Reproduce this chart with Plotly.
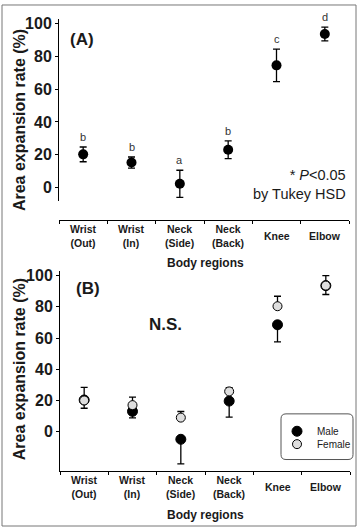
import plotly.graph_objects as go

W, H = 358, 528

# ---------------- data ----------------
categories = ["Wrist<br>(Out)", "Wrist<br>(In)", "Neck<br>(Side)", "Neck<br>(Back)", "Knee", "Elbow"]

# Panel A (all subjects)
mean_A = [20.2, 15.2, 2.2, 23.0, 74.6, 93.8]
err_A = [4.5, 3.4, 8.3, 5.4, 9.9, 4.2]
letters_A = ["b", "b", "a", "b", "c", "d"]

# Panel B (by sex)
male_B = [20.3, 13.0, -4.9, 19.6, 68.5, 93.6]
male_err_down = [5.3, 4.2, 15.8, 10.3, 11.0, 5.7]
female_B = [20.0, 17.0, 9.0, 25.8, 80.4, 93.6]
female_err_up = [8.4, 5.1, 3.9, 2.4, 6.4, 6.4]

y_ticks = [0, 20, 40, 60, 80, 100]

FONT = "Liberation Sans, Arial, Helvetica, sans-serif"
DARK = "#1a1a1a"


def px(x):
    return x / W


def py(y):
    return 1 - y / H


fig = go.Figure()

# Panel A
fig.add_trace(go.Scatter(
    x=categories, y=mean_A, mode="markers",
    marker=dict(color="black", size=10),
    error_y=dict(type="data", array=err_A, color="black", thickness=1.3, width=3.5),
    xaxis="x", yaxis="y", showlegend=False,
))

# Panel B
fig.add_trace(go.Scatter(
    x=categories, y=male_B, mode="markers", name="Male",
    marker=dict(color="black", size=10, line=dict(color="black", width=1)),
    error_y=dict(type="data", symmetric=False, array=[0] * len(male_B),
                 arrayminus=male_err_down, color="black", thickness=1.3, width=3.5),
    xaxis="x2", yaxis="y2", legend="legend",
))
fig.add_trace(go.Scatter(
    x=categories, y=female_B, mode="markers", name="Female",
    marker=dict(color="#dedede", size=9, line=dict(color="black", width=1)),
    error_y=dict(type="data", symmetric=False, array=female_err_up,
                 arrayminus=[0] * len(female_B), color="black", thickness=1.3, width=3.5),
    xaxis="x2", yaxis="y2", legend="legend2",
))

xcommon = dict(
    type="category", categoryorder="array", categoryarray=categories,
    range=[-0.5, len(categories) - 0.5], showline=True, linecolor="black", linewidth=1,
    ticks="outside", ticklen=3, tickcolor="black", tickson="boundaries",
    showticklabels=False, showgrid=False, zeroline=False, fixedrange=True,
)
ycommon = dict(
    tickvals=y_ticks, showline=True, linecolor="black", linewidth=1,
    ticks="outside", ticklen=3, tickcolor="black", showgrid=False, zeroline=False,
    tickfont=dict(family=FONT, size=16, color=DARK, weight="bold"),
)

legend_common = dict(xanchor="left", yanchor="middle", bgcolor="rgba(0,0,0,0)",
                     font=dict(family=FONT, size=10, color=DARK), itemwidth=30,
                     borderwidth=0)

fig.update_layout(
    width=W, height=H, margin=dict(l=0, r=0, t=0, b=0),
    paper_bgcolor="white", plot_bgcolor="white",
    font=dict(family=FONT, color=DARK),
    xaxis=dict(**xcommon, domain=[px(59), px(349)], anchor="free", position=py(218)),
    yaxis=dict(**ycommon, domain=[py(198), py(15)], range=[-8, 103], anchor="x"),
    xaxis2=dict(**xcommon, domain=[px(60), px(350)], anchor="y2"),
    yaxis2=dict(**ycommon, domain=[py(471), py(269)], range=[-25.5, 103], anchor="x2"),
    legend=dict(**legend_common, x=px(277), y=py(430.5)),
    legend2=dict(**legend_common, x=px(277), y=py(443.5)),
    showlegend=True,
)

ann = []
# x category labels (centered vertically like the reference)
for c in categories:
    ann.append(dict(x=c, y=py(234), xref="x", yref="paper", text=c, showarrow=False,
                    font=dict(family=FONT, size=10.5, color=DARK, weight="bold"),
                    xanchor="center", yanchor="middle"))
    ann.append(dict(x=c, y=py(487), xref="x2", yref="paper", text=c, showarrow=False,
                    font=dict(family=FONT, size=10.5, color=DARK, weight="bold"),
                    xanchor="center", yanchor="middle"))
# significance letters
for c, m, e, l in zip(categories, mean_A, err_A, letters_A):
    ann.append(dict(x=c, y=m + e, xref="x", yref="y", text=l, showarrow=False,
                    font=dict(family=FONT, size=11, color="#333333"),
                    xanchor="center", yanchor="bottom", yshift=2))
# axis titles
for yc in (117, 368):
    ann.append(dict(x=px(19), y=py(yc), xref="paper", yref="paper",
                    text="Area expansion rate (%)", textangle=-90, showarrow=False,
                    font=dict(family=FONT, size=16, color=DARK, weight="bold"),
                    xanchor="center", yanchor="middle"))
for yc in (261, 515):
    ann.append(dict(x=px(205), y=py(yc), xref="paper", yref="paper",
                    text="Body regions", showarrow=False,
                    font=dict(family=FONT, size=12, color=DARK, weight="bold"),
                    xanchor="center", yanchor="middle"))
# panel labels
ann.append(dict(x=px(82), y=py(36), xref="paper", yref="paper", text="(A)", showarrow=False,
                font=dict(family=FONT, size=17, color=DARK, weight="bold"),
                xanchor="center", yanchor="middle"))
ann.append(dict(x=px(88), y=py(287), xref="paper", yref="paper", text="(B)", showarrow=False,
                font=dict(family=FONT, size=17, color=DARK, weight="bold"),
                xanchor="center", yanchor="middle"))
ann.append(dict(x=px(165), y=py(323), xref="paper", yref="paper", text="N.S.", showarrow=False,
                font=dict(family=FONT, size=17, color=DARK, weight="bold"),
                xanchor="center", yanchor="middle"))
ann.append(dict(x=px(348), y=py(182), xref="paper", yref="paper",
                text="* <i>P</i>&lt;0.05<br>by Tukey HSD", showarrow=False, align="right",
                font=dict(family=FONT, size=14.5, color=DARK),
                xanchor="right", yanchor="middle"))
fig.update_layout(annotations=ann)

# frame and rounded legend box
r = 5
x0, x1, y0, y1 = px(281), px(353), py(459), py(413)
rx, ry = r / W, r / H
path = (f"M {x0+rx},{y0} L {x1-rx},{y0} Q {x1},{y0} {x1},{y0+ry} "
        f"L {x1},{y1-ry} Q {x1},{y1} {x1-rx},{y1} L {x0+rx},{y1} Q {x0},{y1} {x0},{y1-ry} "
        f"L {x0},{y0+ry} Q {x0},{y0} {x0+rx},{y0} Z")
fig.update_layout(shapes=[
    dict(type="rect", xref="paper", yref="paper", x0=px(2), x1=px(356), y0=py(526), y1=py(1),
         line=dict(color="#777", width=1)),
    dict(type="path", xref="paper", yref="paper", path=path, line=dict(color="#555", width=1)),
])

fig.write_html("out.html", config={"displayModeBar": False},
               post_script="document.body.style.margin='0';document.body.style.overflow='hidden';")
